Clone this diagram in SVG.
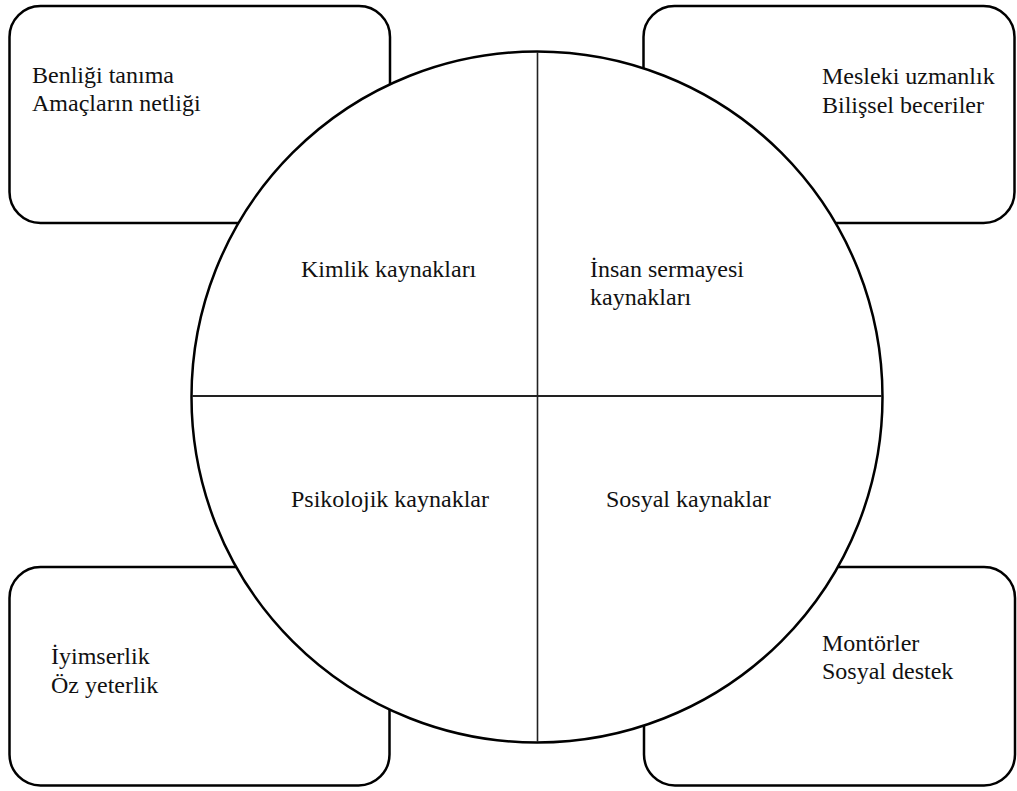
<svg xmlns="http://www.w3.org/2000/svg" width="1017" height="791" viewBox="0 0 1017 791">
<style>
.box{fill:#fff;stroke:#000;stroke-width:2.5}
text{font-family:'Liberation Serif','Times New Roman','DejaVu Serif',serif;font-size:24px;fill:#111}
.div{stroke:#222;stroke-width:1.6}
</style>
<rect width="1017" height="791" fill="#fff"/>
<g id="box-tl"><rect class="box" x="9.5" y="6" width="380.5" height="217" rx="31"/>
<text x="32" y="83">Benliği tanıma</text><text x="32" y="111">Amaçların netliği</text></g>
<g id="box-tr"><rect class="box" x="643.5" y="6" width="371" height="217" rx="31"/>
<text x="822" y="84">Mesleki uzmanlık</text><text x="822" y="113">Bilişsel beceriler</text></g>
<g id="box-bl"><rect class="box" x="9.5" y="567" width="380" height="218.5" rx="31"/>
<text x="51" y="664">İyimserlik</text><text x="51" y="693">Öz yeterlik</text></g>
<g id="box-br"><rect class="box" x="644" y="567" width="371" height="218.5" rx="31"/>
<text x="822" y="651">Montörler</text><text x="822" y="679">Sosyal destek</text></g>
<g id="circle"><circle cx="537" cy="397" r="345.5" fill="#fff" stroke="#000" stroke-width="2.5"/></g>
<g id="connectors">
<line class="div" x1="537.5" y1="52" x2="537.5" y2="742"/>
<line x1="192" y1="396" x2="882" y2="396" stroke="#222" stroke-width="2.2"/>
</g>
<g id="q-identity"><text x="301" y="277">Kimlik kaynakları</text></g>
<g id="q-human"><text x="590" y="277">İnsan sermayesi</text><text x="590" y="305">kaynakları</text></g>
<g id="q-psych"><text x="291" y="507">Psikolojik kaynaklar</text></g>
<g id="q-social"><text x="606" y="507">Sosyal kaynaklar</text></g>
</svg>
